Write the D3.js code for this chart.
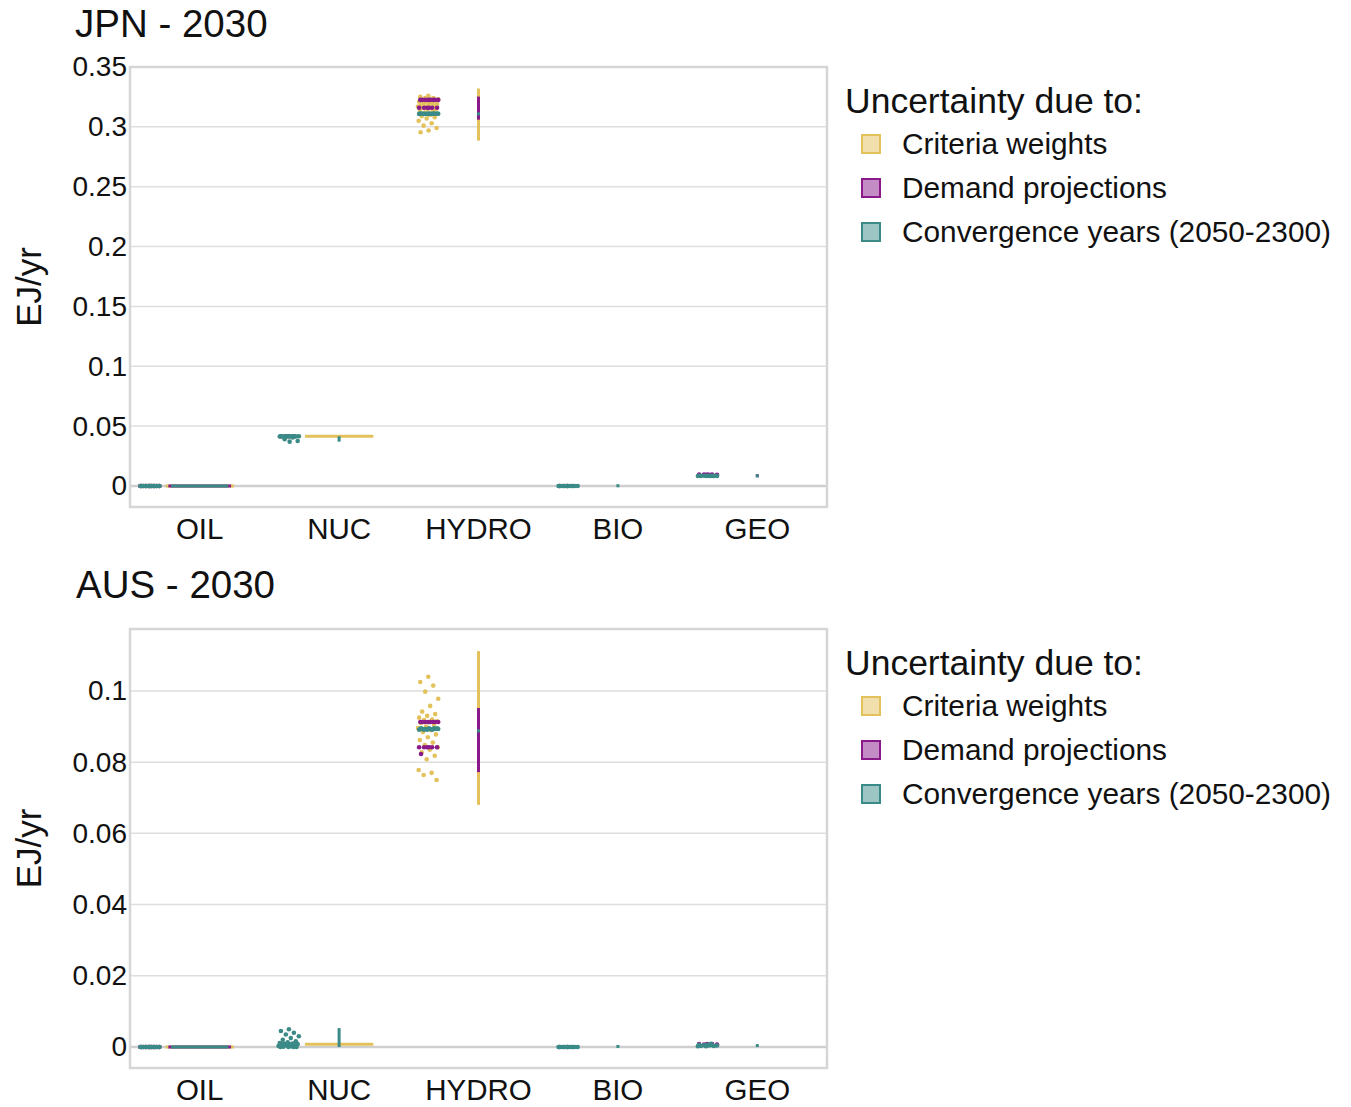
<!DOCTYPE html>
<html>
<head>
<meta charset="utf-8">
<script src="https://cdn.jsdelivr.net/npm/d3@7"></script>
<style>
  html, body { margin: 0; padding: 0; background: #fff; }
  svg { display: block; font-family: "Liberation Sans", Arial, sans-serif; }
</style>
</head>
<body>
<svg id="chart" width="1351" height="1107"></svg>
<script>
// ---- categories, series and ticks ----
const categories = ["OIL", "NUC", "HYDRO", "BIO", "GEO"];
const seriesNames = ["Criteria weights", "Demand projections", "Convergence years (2050-2300)"];
const seriesColors = ["#e3c15b", "#8a1a8a", "#3a8b88"];
const jpnTicks = [0, 0.05, 0.1, 0.15, 0.2, 0.25, 0.3, 0.35];
const ausTicks = [0, 0.02, 0.04, 0.06, 0.08, 0.1];

// ---- JPN 2030: sampled results per category (EJ/yr) ----
const jpnCriteria = [
  [0, 0, 0, 0, 0, 0],
  [0.0415, 0.0415, 0.0415, 0.0415, 0.0415, 0.0415],
  [0.326, 0.325, 0.324, 0.324, 0.323, 0.323, 0.322, 0.322, 0.321, 0.321, 0.320, 0.320,
   0.319, 0.319, 0.318, 0.318, 0.317, 0.317, 0.316, 0.316, 0.315, 0.315, 0.314, 0.313,
   0.312, 0.311, 0.310, 0.309, 0.308, 0.307, 0.305, 0.303, 0.301, 0.299, 0.297, 0.2955],
  [0, 0, 0, 0],
  [0.0085, 0.0085]
];
const jpnDemand = [
  [0, 0, 0, 0, 0, 0, 0, 0, 0, 0, 0, 0, 0, 0],
  [0.0415, 0.0415, 0.0415, 0.0415],
  [0.3225, 0.3225, 0.3225, 0.3225, 0.3225, 0.3225, 0.3225, 0.3225,
   0.316, 0.316, 0.316, 0.316, 0.316, 0.316],
  [0, 0],
  [0.0095, 0.0095, 0.0095, 0.0095, 0.0094, 0.0094]
];
const jpnConvergence = [
  [0, 0, 0, 0, 0, 0, 0, 0, 0, 0, 0, 0],
  [0.0415, 0.0415, 0.0415, 0.0415, 0.0415, 0.0415, 0.0414, 0.0414, 0.0413, 0.0413,
   0.0405, 0.039, 0.0375, 0.037],
  [0.311, 0.311, 0.311, 0.311, 0.311, 0.311, 0.311, 0.311, 0.3108, 0.3108, 0.3108,
   0.3108, 0.3112, 0.3112, 0.3112, 0.3112],
  [0, 0, 0, 0, 0, 0, 0, 0, 0, 0, 0, 0],
  [0.0085, 0.0085, 0.0085, 0.0085, 0.0084, 0.0084, 0.0084, 0.0084, 0.0083, 0.0083, 0.0083]
];
// ranges [low, high] per category, null where nothing is drawn
const jpnCriteriaRange = [[0, 0], [0.0415, 0.0415], [0.2885, 0.332], null, null];
const jpnDemandRange = [[0, 0], null, [0.306, 0.3253], null, [0.0083, 0.0088]];
const jpnConvergenceRange = [[0, 0], [0.037, 0.0415], [0.3105, 0.3112], [0, 0.0003], [0.0082, 0.0086]];

// ---- AUS 2030: sampled results per category (EJ/yr) ----
const ausCriteria = [
  [0, 0, 0, 0, 0, 0],
  [0.0008, 0.0008, 0.0008, 0.0008],
  [0.104, 0.1025, 0.1015, 0.0998, 0.0978, 0.0958, 0.0942, 0.0935, 0.093, 0.0925,
   0.092, 0.0918, 0.0915, 0.0912, 0.091, 0.0905, 0.09, 0.0896, 0.089, 0.0885,
   0.0878, 0.087, 0.0862, 0.0855, 0.0848, 0.0842, 0.0835, 0.0828, 0.0818, 0.0808,
   0.0778, 0.077, 0.0764, 0.075],
  [0, 0, 0],
  [0.0005, 0.0005]
];
const ausDemand = [
  [0, 0, 0, 0, 0, 0, 0, 0, 0, 0, 0, 0, 0, 0],
  [0.0008, 0.0008],
  [0.0913, 0.0913, 0.0913, 0.0913, 0.0913, 0.0913, 0.0913, 0.0913,
   0.0842, 0.0842, 0.0842, 0.0842, 0.0842, 0.0842, 0.0823],
  [0, 0],
  [0.0008, 0.0008, 0.0008, 0.0007, 0.0007]
];
const ausConvergence = [
  [0, 0, 0, 0, 0, 0, 0, 0, 0, 0, 0, 0],
  [0.005, 0.0045, 0.004, 0.0035, 0.003, 0.0025, 0.002, 0.0016, 0.0013, 0.0011, 0.001,
   0.0009, 0.0008, 0.0007, 0.0006, 0.0005, 0.0004, 0.0003, 0.0002, 0.0001, 0, 0, 0, 0],
  [0.0893, 0.0893, 0.0893, 0.0893, 0.0893, 0.0893, 0.0893, 0.0893, 0.0891, 0.0891,
   0.0891, 0.0891, 0.0895, 0.0895, 0.0895, 0.0895],
  [0, 0, 0, 0, 0, 0, 0, 0, 0, 0, 0, 0],
  [0.0006, 0.0006, 0.0005, 0.0005, 0.0004, 0.0004, 0.0003, 0.0003, 0.0002, 0.0002, 0.0009]
];
const ausCriteriaRange = [[0, 0], [0.0008, 0.0008], [0.068, 0.1112], null, null];
const ausDemandRange = [[0, 0], null, [0.0772, 0.0952], null, null];
const ausConvergenceRange = [[0, 0], [0, 0.0053], [0.0885, 0.0891], [0, 0.0003], [0, 0.0008]];

// ---- drawing ----
const svg = d3.select("#chart");
const plotLeft = 130, plotRight = 827;
const FONT = "Liberation Sans, Arial, sans-serif";

// horizontal jitter for strip points: an evenly spread low-discrepancy sequence
function jitter(i, half) {
  const f = (i * 0.6180339887 + 0.5) % 1;
  return (f - 0.5) * 2 * half;
}

function drawPanel(cfg) {
  const g = svg.append("g");
  const x = d3.scaleBand().domain(categories).range([plotLeft, plotRight]).padding(0);
  const y = d3.scaleLinear().domain(cfg.domain).range([cfg.bottom, cfg.top]);
  const bw = x.bandwidth();

  // title
  g.append("text").attr("x", cfg.titleX).attr("y", cfg.titleY)
    .attr("font-size", 38.5).attr("fill", "#111").text(cfg.title);

  // gridlines
  g.append("g").selectAll("line").data(cfg.ticks.filter(t => t !== 0)).join("line")
    .attr("x1", plotLeft).attr("x2", plotRight)
    .attr("y1", d => y(d)).attr("y2", d => y(d))
    .attr("stroke", "#dedede").attr("stroke-width", 1.5);
  g.append("line").attr("x1", plotLeft).attr("x2", plotRight)
    .attr("y1", y(0)).attr("y2", y(0))
    .attr("stroke", "#cfcfcf").attr("stroke-width", 2.5);

  // y axis labels
  const yAxis = d3.axisLeft(y).tickValues(cfg.ticks).tickSize(0).tickPadding(3)
    .tickFormat(d => String(+d.toFixed(2)));
  const ya = g.append("g").attr("transform", `translate(${plotLeft},0)`).call(yAxis);
  ya.select(".domain").remove();
  ya.selectAll("text").attr("font-size", 28).attr("fill", "#111").attr("font-family", FONT);

  // x axis labels
  const xAxis = d3.axisBottom(x).tickSize(0).tickPadding(0);
  const xa = g.append("g").attr("transform", `translate(0,${cfg.bottom})`).call(xAxis);
  xa.select(".domain").remove();
  xa.selectAll("text").attr("font-size", 29.5).attr("fill", "#111")
    .attr("dy", null).attr("y", cfg.catBaseline - cfg.bottom)
    .attr("font-family", FONT);

  // y axis title
  g.append("text")
    .attr("transform", `translate(41,${(cfg.top + cfg.bottom) / 2}) rotate(-90)`)
    .attr("text-anchor", "middle").attr("font-size", 35).attr("fill", "#111")
    .text("EJ/yr");

  // strip points, one series over the other
  const stripOffset = -0.36 * bw;
  cfg.points.forEach((series, si) => {
    series.forEach((vals, ci) => {
      const cx = x(categories[ci]) + bw / 2 + stripOffset;
      g.append("g").selectAll("circle").data(vals).join("circle")
        .attr("cx", (d, i) => cx + jitter(i, 10.5)).attr("cy", d => y(d)).attr("r", 2.3)
        .attr("fill", seriesColors[si]);
    });
  });

  // ranges: vertical spans, or a flat bar when all values coincide
  const flatWidth = [0.49 * bw, 0.45 * bw, 0.41 * bw];
  cfg.ranges.forEach((series, si) => {
    series.forEach((r, ci) => {
      if (!r) return;
      const cx = x(categories[ci]) + bw / 2;
      if (r[0] === r[1]) {
        g.append("line")
          .attr("x1", cx - flatWidth[si] / 2).attr("x2", cx + flatWidth[si] / 2)
          .attr("y1", y(r[0])).attr("y2", y(r[0]))
          .attr("stroke", seriesColors[si]).attr("stroke-width", 3);
      } else {
        let y1 = y(r[1]), y2 = y(r[0]);
        if (y2 - y1 < 3) { const m = (y1 + y2) / 2; y1 = m - 1.5; y2 = m + 1.5; }
        g.append("line").attr("x1", cx).attr("x2", cx).attr("y1", y1).attr("y2", y2)
          .attr("stroke", seriesColors[si]).attr("stroke-width", 3);
      }
    });
  });

  // plot frame
  g.append("rect").attr("x", plotLeft).attr("y", cfg.top)
    .attr("width", plotRight - plotLeft).attr("height", cfg.bottom - cfg.top)
    .attr("fill", "none").attr("stroke", "#d6d6d6").attr("stroke-width", 2.5);

  // legend
  const lg = g.append("g");
  lg.append("text").attr("x", 845).attr("y", cfg.legendY)
    .attr("font-size", 35.5).attr("fill", "#111").text("Uncertainty due to:");
  seriesNames.forEach((name, i) => {
    const cy = cfg.legendY + 31 + i * 44;
    lg.append("rect").attr("x", 862).attr("y", cy - 9).attr("width", 18).attr("height", 18)
      .attr("fill", seriesColors[i]).attr("fill-opacity", 0.5)
      .attr("stroke", seriesColors[i]).attr("stroke-width", 2);
    lg.append("text").attr("x", 902).attr("y", cy + 10)
      .attr("font-size", 29.8).attr("fill", "#111").text(name);
  });
}

drawPanel({
  title: "JPN - 2030", titleX: 75, titleY: 37,
  top: 67, bottom: 507, domain: [-0.0176, 0.35], ticks: jpnTicks,
  catBaseline: 539, legendY: 113,
  points: [jpnCriteria, jpnDemand, jpnConvergence],
  ranges: [jpnCriteriaRange, jpnDemandRange, jpnConvergenceRange]
});

drawPanel({
  title: "AUS - 2030", titleX: 76, titleY: 598,
  top: 629, bottom: 1068, domain: [-0.0059, 0.1174], ticks: ausTicks,
  catBaseline: 1100, legendY: 675,
  points: [ausCriteria, ausDemand, ausConvergence],
  ranges: [ausCriteriaRange, ausDemandRange, ausConvergenceRange]
});
</script>
</body>
</html>
